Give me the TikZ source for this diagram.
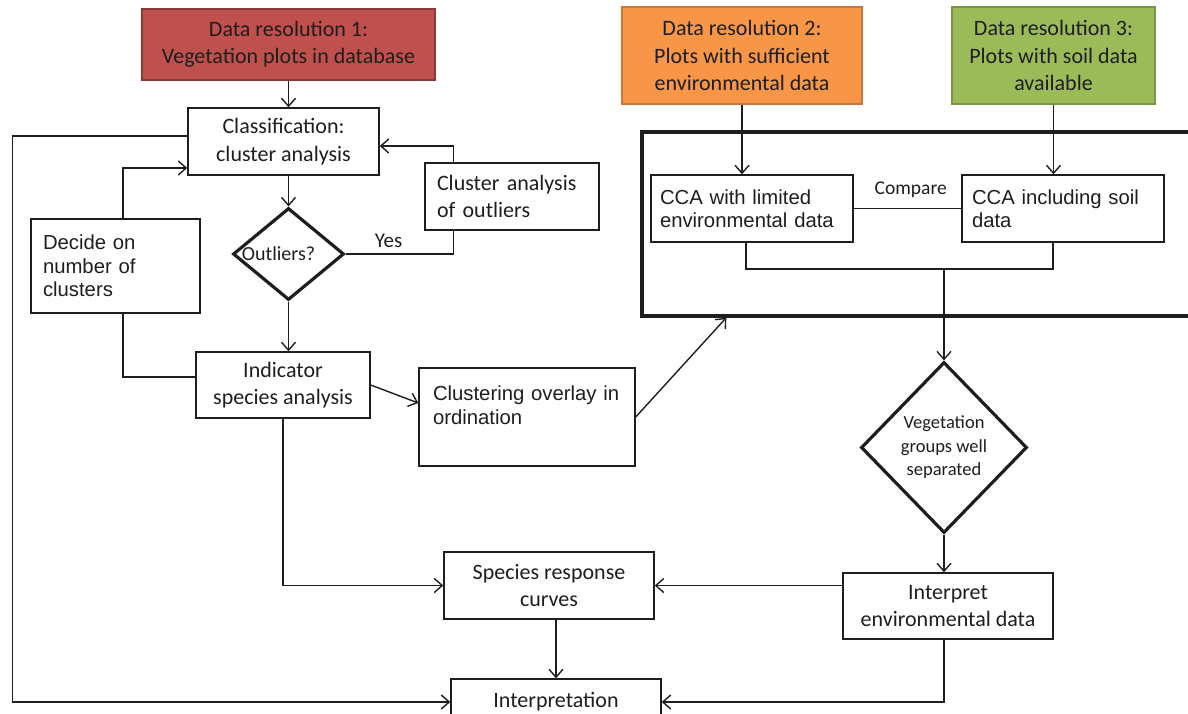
\documentclass[tikz,border=0pt]{standalone}
\usepackage{fontspec}
\setmainfont{Carlito}
\newfontfamily\arialfont{Liberation Sans}
\usepackage{tikz}
\usetikzlibrary{arrows.meta,shapes.geometric}
\definecolor{resRed}{HTML}{C0504D}
\definecolor{resRedLine}{HTML}{8C3836}
\definecolor{resOrange}{HTML}{F79646}
\definecolor{resOrangeLine}{HTML}{C9773A}
\definecolor{resGreen}{HTML}{9BBB59}
\definecolor{resGreenLine}{HTML}{7A9645}
\definecolor{inkGrey}{HTML}{1E1E1E}
\tikzset{
  srcbox/.style 2 args={rectangle, draw=#1, fill=#2, line width=1.2pt, align=center, inner sep=0pt, text=inkGrey, font=\fontsize{22}{27.5}\selectfont},
  procbox/.style={rectangle, draw=inkGrey, fill=white, line width=1.4pt, align=center, inner sep=0pt, text=inkGrey, font=\fontsize{22}{27.5}\selectfont},
  notebox/.style={rectangle, draw=inkGrey, fill=white, line width=1.4pt, align=left, inner ysep=0pt, text=inkGrey, font=\arialfont\fontsize{20.3}{23.5}\selectfont},
  decision/.style={diamond, draw=inkGrey, fill=white, line width=3.2pt, align=center, inner sep=0pt, text=inkGrey},
  ccaframe/.style={rectangle, draw=inkGrey, line width=3.4pt, inner sep=0pt},
  flowline/.style={line width=1.4pt, draw=inkGrey},
  flowarrow/.style={-{Straight Barb[length=8pt,width=14pt,line width=1.4pt]}, line width=1.4pt, draw=inkGrey},
  edgelabel/.style={inner sep=0pt, text=inkGrey},
}

\begin{document}
\begin{tikzpicture}[x=1pt,y=-1pt]
  \useasboundingbox (0,0) rectangle (1188,714);

  % --- data sources ---
  \node[srcbox={resRedLine}{resRed}, minimum width=293, minimum height=71] (res1) at (288.5,44.5) {Data resolution 1:\\Vegetation plots in database};
  \node[srcbox={resOrangeLine}{resOrange}, minimum width=240, minimum height=97] (res2) at (742,55.5) {Data resolution 2:\\Plots with sufficient\\environmental data};
  \node[srcbox={resGreenLine}{resGreen}, minimum width=203, minimum height=97] (res3) at (1053.5,55.5) {Data resolution 3:\\Plots with soil data\\available};

  % --- classification branch ---
  \node[procbox, minimum width=191, minimum height=67] (classif) at (283.5,141.5) {Classification:\\cluster analysis};
  \node[procbox, align=left, inner xsep=12pt, text width=150, minimum height=67] (outbox) at (512,196.5) {\mbox{Cluster analysis}\\of outliers};
  \node[notebox, inner xsep=12pt, text width=145, minimum height=94] (decide) at (115.5,266) {\mbox{Decide on}\\\mbox{number of}\\clusters};
  \node[decision, aspect=1.2, minimum width=111, minimum height=92, font=\fontsize{20}{24}\selectfont] (outdia) at (288.5,254) {\hspace*{-20pt}Outliers?};
  \node[procbox, minimum width=174, minimum height=66] (indicator) at (283,385) {Indicator\\species analysis};
  \node[notebox, inner xsep=14pt, text width=188, minimum height=98] (overlay) at (527,417) {\mbox{Clustering overlay in}\\ordination\\\mbox{}};

  % --- ordination branch ---
  \node[ccaframe, minimum width=560, minimum height=184] (frame) at (922,224) {};
  \node[notebox, inner xsep=9pt, text width=184, minimum height=67] (ccalim) at (752,208.5) {\mbox{CCA with limited}\\\mbox{environmental data}};
  \node[notebox, inner xsep=10pt, text width=182, minimum height=67] (ccasoil) at (1063,208.5) {\mbox{CCA including soil}\\data};
  \coordinate (join) at (944,269);
  \node[decision, aspect=1, minimum width=166, minimum height=171, font=\fontsize{18.5}{23.5}\selectfont] (vegdia) at (944,447.5) {Vegetation\\groups well\\separated};
  \node[procbox, minimum width=210, minimum height=66] (interpret) at (948,606) {Interpret\\environmental data};

  % --- results ---
  \node[procbox, minimum width=210, minimum height=67] (species) at (549,585.5) {Species response\\curves};
  \node[procbox, minimum width=210, minimum height=46] (result) at (556,702) {Interpretation};
  \coordinate (rail) at (12.5,136);

  % connectors
  \draw[flowarrow] (res1.south) -- (res1.south |- classif.north);
  \draw[flowarrow] (outdia.north |- classif.south) -- (outdia.north);
  \draw[flowarrow] (outdia.south) -- (outdia.south |- indicator.north);
  \draw[flowline] (outdia.east) -| ([xshift=29pt]outbox.south west) node[edgelabel, pos=0.2, above=6pt, font=\fontsize{21}{24}\selectfont] {Yes};
  \draw[flowarrow] ([xshift=29pt]outbox.north west) |- ([yshift=-4.5pt]classif.east);
  \draw[flowarrow] ([xshift=7.5pt]decide.north) |- ([yshift=-26.5pt]classif.west);
  \draw[flowline] ([xshift=7.5pt]decide.south) |- ([yshift=8pt]indicator.west);
  \draw[flowarrow] ([yshift=5.5pt]classif.west) -- (rail) |- (result.west);
  \draw[flowarrow] (indicator.east) -- ([yshift=14pt]overlay.west);
  \draw[flowarrow] (overlay.east) -- ([xshift=86pt]frame.south west);
  \draw[flowarrow] (res2.south) -- (res2.south |- ccalim.north);
  \draw[flowarrow] (res3.south) -- (res3.south |- ccasoil.north);
  \draw[flowline] (ccalim.east) -- (ccasoil.west) node[edgelabel, pos=0.53, above=10pt, font=\fontsize{19.5}{23}\selectfont] {Compare};
  \draw[flowline] ([xshift=-6pt]ccalim.south) |- (join) -| ([xshift=-10pt]ccasoil.south);
  \draw[flowarrow] (join) -- (vegdia.north);
  \draw[flowarrow] (vegdia.south) -- (vegdia.south |- interpret.north);
  \draw[flowarrow] (interpret.west |- species.east) -- (species.east);
  \draw[flowarrow] ([xshift=-4pt]interpret.south) |- (result.east);
  \draw[flowarrow] (indicator.south) |- (species.west);
  \draw[flowarrow] (result.north |- species.south) -- (result.north);
\end{tikzpicture}
\end{document}
